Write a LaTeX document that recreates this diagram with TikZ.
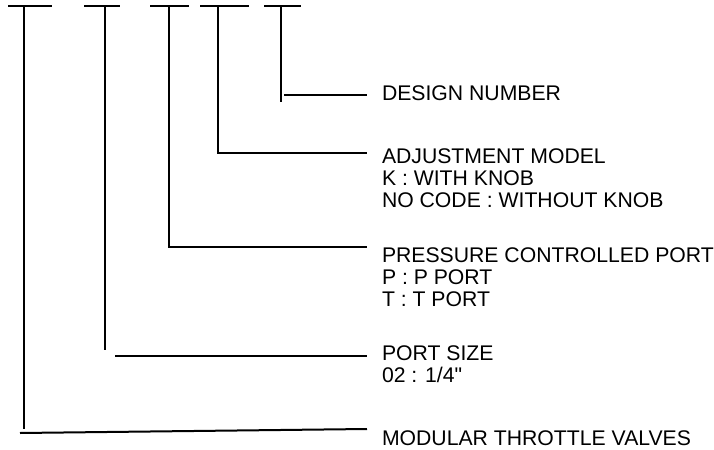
\documentclass[tikz,border=0pt]{standalone}
\usepackage{fontspec}
\setmainfont{Liberation Sans}[Ligatures=TeXOff]
\usetikzlibrary{positioning}

\begin{document}
\begin{tikzpicture}[x=0.5pt,y=-0.5pt,line width=1pt,
  tbar/.style={draw},
  desc/.style={anchor=north west,inner sep=0pt,align=left,
    font=\fontsize{10.6pt}{10.8pt}\selectfont}]
\useasboundingbox (0,0) rectangle (714,450);
% code positions
\coordinate (t1) at (24,6);
\coordinate (t2) at (105,6);
\coordinate (t3) at (169,6);
\coordinate (t4) at (218,6);
\coordinate (t5) at (281,6);
\path[tbar] (t1) +(-16,0) -- +(28,0);
\path[tbar] (t2) +(-21,0) -- +(15,0);
\path[tbar] (t3) +(-19,0) -- +(20,0);
\path[tbar] (t4) +(-18,0) -- +(31,0);
\path[tbar] (t5) +(-17,0) -- +(20,0);
% bends and line ends
\coordinate (b1) at (24,429);
\coordinate (b2) at (105,350);
\coordinate (b3) at (169,247);
\coordinate (b4) at (218,153);
\coordinate (b5) at (281,102);
\coordinate (h1) at (20,433);
\coordinate (h2) at (115,356);
\coordinate (h5) at (284,95);
\coordinate (e1) at (367,429);
\coordinate (e2) at (367,356);
\coordinate (e3) at (367,247);
\coordinate (e4) at (367,153);
\coordinate (e5) at (367,95);
% texts
\node[desc] (design) at (381,85) {DESIGN NUMBER};
\node[desc] (adjust) at (381,148) {ADJUSTMENT MODEL\\K : WITH KNOB\\NO CODE : WITHOUT KNOB};
\node[desc] (pressure) at (381,247) {PRESSURE CONTROLLED PORT\\P : P PORT\\T : T PORT};
\node[desc] (size) at (381,345) {PORT SIZE\\02 : 1/4"};
\node[desc] (model) at (381,430) {MODULAR THROTTLE VALVES};
% leaders
\draw (t5) -- (b5);
\draw (h5) -- (e5);
\draw (t4) -- (b4) -- (e4);
\draw (t3) -- (b3) -- (e3);
\draw (t2) -- (b2);
\draw (h2) -- (e2);
\draw (t1) -- (b1);
\draw (h1) -- (e1);
\end{tikzpicture}
\end{document}
